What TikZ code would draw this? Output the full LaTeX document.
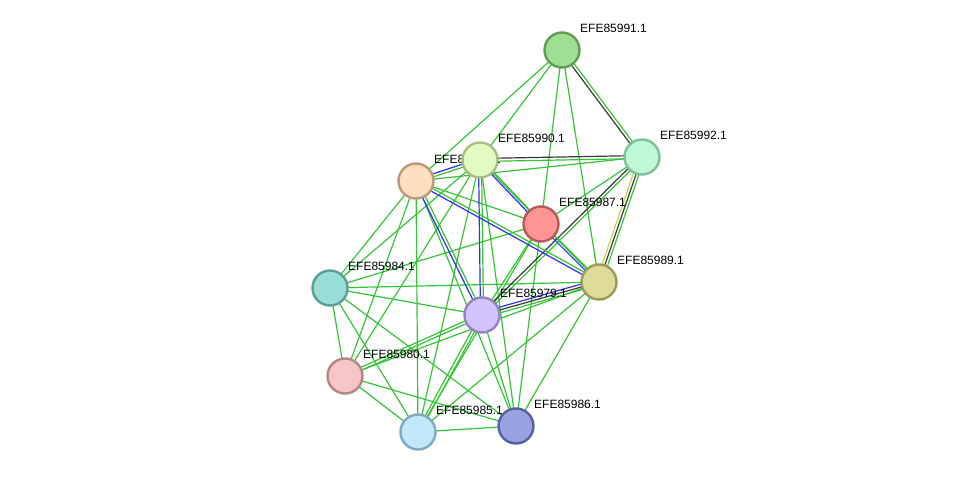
\documentclass[tikz,border=0pt]{standalone}
\usepackage{fontspec}
\setmainfont{Liberation Sans}
\usetikzlibrary{calc,backgrounds}

\definecolor{evgreen}{HTML}{35C435}
\definecolor{evblue}{HTML}{3030F0}
\definecolor{evblack}{HTML}{3A3A3A}
\definecolor{evyellow}{HTML}{C8D248}

% one line of an edge, shifted sideways by #1
\newcommand{\edgeline}[4][0pt]{\draw[ev, #4] ($(#2)!#1!90:(#3)$) -- ($(#3)!#1!-90:(#2)$);}

\begin{document}
\begin{tikzpicture}[x=1pt, y=-1pt,
  prot/.style={circle, draw, line width=2.4pt, minimum size=35pt, inner sep=0pt},
  lab/.style={anchor=west, inner sep=0pt, font=\fontsize{12}{14}\selectfont},
  ev/.style={line width=1.2pt}
]
\useasboundingbox (0,0) rectangle (976,478);

% proteins
\node[prot, fill={rgb,255:red,160;green,222;blue,148}, draw={rgb,255:red,94;green,158;blue,85}] (p91) at (562,50) {};
\node[lab] (l91) at ($(p91)+(18,-22)$) {EFE85991.1};
\node[prot, fill={rgb,255:red,192;green,247;blue,214}, draw={rgb,255:red,126;green,192;blue,154}] (p92) at (642,157) {};
\node[lab] (l92) at ($(p92)+(18,-22)$) {EFE85992.1};
\node[prot, fill={rgb,255:red,253;green,223;blue,192}, draw={rgb,255:red,184;green,156;blue,124}] (p88) at (416,181) {};
\node[lab] (l88) at ($(p88)+(18,-22)$) {EFE85988.1};
\node[prot, fill={rgb,255:red,227;green,252;blue,198}, draw={rgb,255:red,166;green,190;blue,132}] (p90) at (480,160) {};
\node[lab] (l90) at ($(p90)+(18,-22)$) {EFE85990.1};
\node[prot, fill={rgb,255:red,255;green,148;blue,148}, draw={rgb,255:red,184;green,88;blue,88}] (p87) at (541,224) {};
\node[lab] (l87) at ($(p87)+(18,-22)$) {EFE85987.1};
\node[prot, fill={rgb,255:red,222;green,219;blue,152}, draw={rgb,255:red,156;green,154;blue,88}] (p89) at (599,282) {};
\node[lab] (l89) at ($(p89)+(18,-22)$) {EFE85989.1};
\node[prot, fill={rgb,255:red,154;green,223;blue,215}, draw={rgb,255:red,90;green,158;blue,152}] (p84) at (330,288) {};
\node[lab] (l84) at ($(p84)+(18,-22)$) {EFE85984.1};
\node[prot, fill={rgb,255:red,211;green,195;blue,253}, draw={rgb,255:red,146;green,130;blue,192}] (p79) at (482,315) {};
\node[lab] (l79) at ($(p79)+(18,-22)$) {EFE85979.1};
\node[prot, fill={rgb,255:red,246;green,198;blue,198}, draw={rgb,255:red,180;green,134;blue,134}] (p80) at (345,376) {};
\node[lab] (l80) at ($(p80)+(18,-22)$) {EFE85980.1};
\node[prot, fill={rgb,255:red,194;green,232;blue,252}, draw={rgb,255:red,130;green,168;blue,192}] (p85) at (418,432) {};
\node[lab] (l85) at ($(p85)+(18,-22)$) {EFE85985.1};
\node[prot, fill={rgb,255:red,152;green,162;blue,224}, draw={rgb,255:red,88;green,96;blue,160}] (p86) at (516,426) {};
\node[lab] (l86) at ($(p86)+(18,-22)$) {EFE85986.1};

% interactions
\begin{scope}[on background layer]
\foreach \a/\b in {91/90, 91/88, 91/87, 91/89, 92/88, 92/87, 90/89, 88/87,
                   88/84, 88/80, 88/85, 88/86, 90/84, 90/80, 90/85, 90/86,
                   87/84, 87/85, 87/86, 87/79, 84/89, 84/79, 84/80, 84/85, 84/86,
                   89/80, 80/85, 80/86, 79/86, 89/85, 89/86, 85/86}
  \edgeline{p\a}{p\b}{evgreen};
\foreach \a/\b in {91/92, 92/90, 92/79} {
  \edgeline[1.5pt]{p\a}{p\b}{evgreen}
  \edgeline[-1.5pt]{p\a}{p\b}{evblack}
}
\foreach \a/\b in {90/88, 90/87, 90/79, 88/79, 88/89, 87/89} {
  \edgeline[1.5pt]{p\a}{p\b}{evgreen}
  \edgeline[-1.5pt]{p\a}{p\b}{evblue}
}
\foreach \a/\b in {80/79, 79/85} {
  \edgeline[1.5pt]{p\a}{p\b}{evgreen}
  \edgeline[-1.5pt]{p\a}{p\b}{evgreen}
}
\edgeline[2.8pt]{p92}{p89}{evgreen}
\edgeline{p92}{p89}{evblack}
\edgeline[-2.8pt]{p92}{p89}{evyellow}
\edgeline[2.8pt]{p89}{p79}{evgreen}
\edgeline{p89}{p79}{evblack}
\edgeline[-2.8pt]{p89}{p79}{evblue}
\end{scope}
\end{tikzpicture}
\end{document}
